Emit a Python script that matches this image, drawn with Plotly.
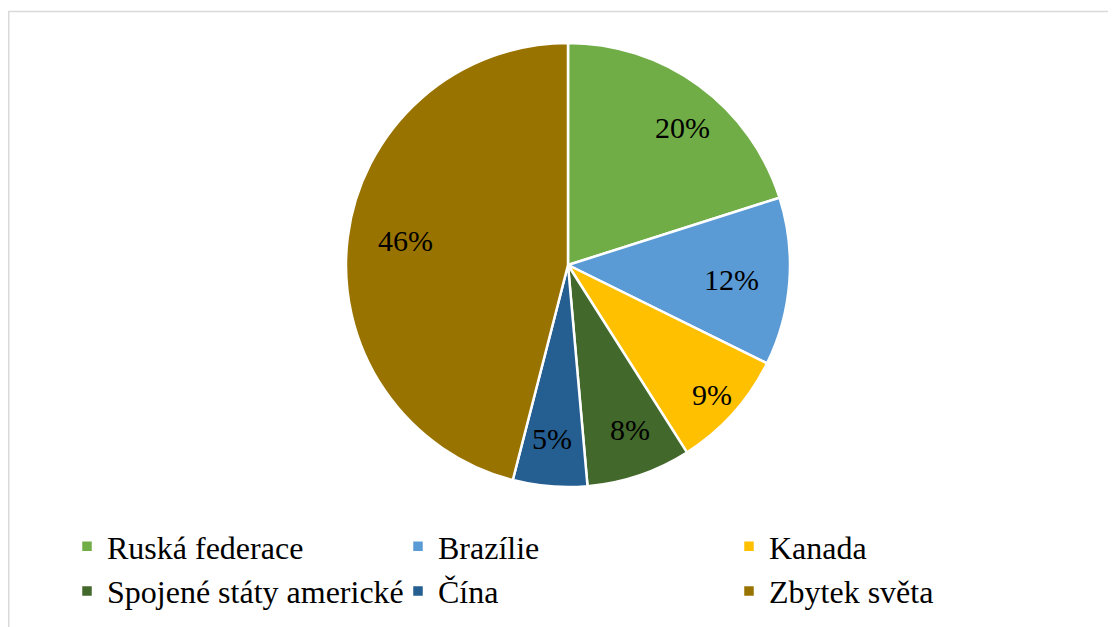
import math
import plotly.graph_objects as go

# Podíl zemí (v %)
zeme = ['Ruská federace', 'Brazílie', 'Kanada', 'Spojené státy americké', 'Čína', 'Zbytek světa']
podil = [20.1, 12.2, 8.7, 7.6, 5.4, 46.0]
barvy = ['#70AD47', '#5B9BD5', '#FFC000', '#43682B', '#255E91', '#997300']

# stránka má 8px okraj, proto je graf o 8px menší
W, H = 1108, 619
cx, cy, r = 560, 257, 222
serif = "'Times New Roman', 'Liberation Serif', 'DejaVu Serif', serif"

fig = go.Figure(go.Pie(
    labels=zeme, values=podil, sort=False, direction='clockwise', rotation=0,
    marker=dict(colors=barvy, line=dict(color='white', width=2.5)),
    textinfo='none',
    domain=dict(x=[(cx - r) / W, (cx + r) / W], y=[(H - cy - r) / H, (H - cy + r) / H]),
    hoverinfo='label+percent',
))

# popisky procent uvnitř výsečí (jako v Excelu, na středu úhlu výseče)
celkem = sum(podil)
kum = 0
popisky = []
for v in podil:
    uhel = 2 * math.pi * (kum + v / 2) / celkem
    kum += v
    px_ = cx + 0.87 * r * math.sin(uhel)
    py_ = cy - 0.87 * r * math.cos(uhel)
    popisky.append(dict(x=px_ / W, y=(H - py_) / H, xref='paper', yref='paper',
                        text=f'{round(v / celkem * 100)}%', showarrow=False,
                        font=dict(family=serif, size=30, color='black')))

fig.update_layout(
    width=W, height=H,
    margin=dict(l=0, r=0, t=0, b=0, autoexpand=False),
    paper_bgcolor='white',
    font=dict(family=serif, color='black'),
    annotations=popisky,
    legend=dict(orientation='h', x=59 / W, xanchor='left', y=(H - 511) / H, yanchor='top',
                entrywidth=286, entrywidthmode='pixels', bgcolor='rgba(0,0,0,0)',
                font=dict(family=serif, size=32), traceorder='normal'),
    shapes=[dict(type='rect', xref='paper', yref='paper',
                 x0=0.75 / W, x1=1.02, y0=-0.05, y1=(H - 3.5) / H,
                 line=dict(color='#D9D9D9', width=1.5))],
)

fig.write_html('out.html')
